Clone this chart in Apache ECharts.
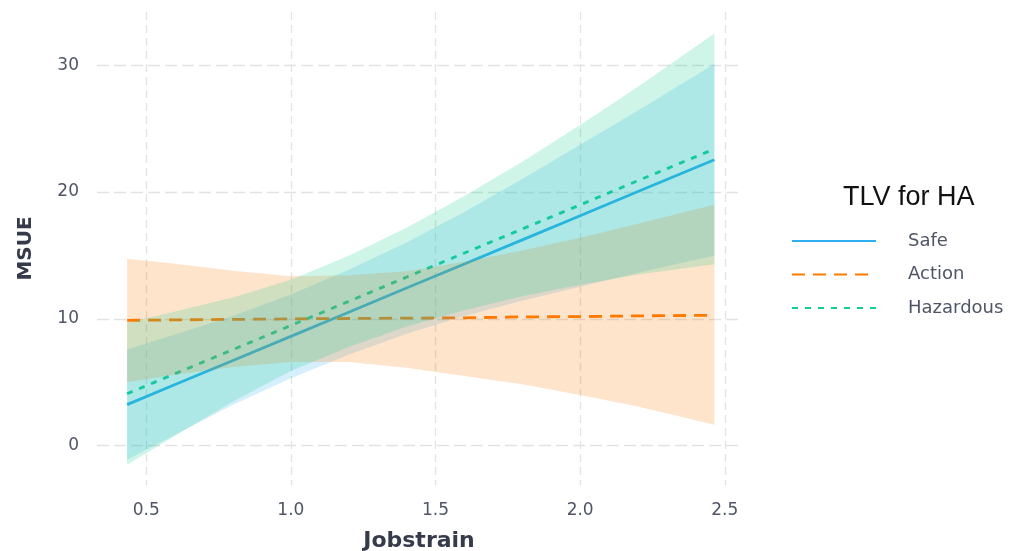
<!DOCTYPE html>
<html>
<head>
<meta charset="utf-8">
<script src="https://cdn.jsdelivr.net/npm/echarts@6/dist/echarts.min.js"></script>
<style>
  html, body { margin: 0; padding: 0; background: #ffffff; }
  #chart { width: 1015px; height: 551px; }
</style>
</head>
<body>
<div id="chart"></div>
<script>
// Predicted MSUE against job strain, by TLV for HA group, with confidence ribbons
const jobstrain = [0.434, 0.6, 0.8, 1.0, 1.2, 1.4, 1.6, 1.8, 2.0, 2.2, 2.464];

const safeFit   = [3.24, 4.82, 6.72, 8.62, 10.52, 12.43, 14.33, 16.23, 18.13, 20.04, 22.55];
const safeLow   = [-1.11, 0.87, 3.22, 5.32, 7.17, 8.83, 10.23, 11.43, 12.53, 13.64, 15.0];
const safeHigh  = [7.59, 8.77, 10.22, 11.92, 13.87, 16.03, 18.43, 21.03, 23.73, 26.44, 30.1];

const actionFit  = [9.88, 9.92, 9.96, 10.0, 10.03, 10.06, 10.08, 10.16, 10.18, 10.24, 10.28];
const actionLow  = [5.0, 5.6, 6.2, 6.6, 6.6, 6.15, 5.5, 4.85, 4.0, 3.1, 1.66];
const actionHigh = [14.74, 14.34, 13.8, 13.36, 13.45, 13.75, 14.5, 15.4, 16.4, 17.5, 19.0];

const hazFit   = [4.1, 5.68, 7.58, 9.48, 11.38, 13.29, 15.19, 17.09, 18.99, 20.9, 23.4];
const hazLow   = [-1.5, 0.78, 3.48, 5.88, 7.78, 9.39, 10.69, 11.79, 12.69, 13.5, 14.3];
const hazHigh  = [9.7, 10.58, 11.68, 13.08, 14.98, 17.19, 19.69, 22.39, 25.29, 28.3, 32.5];

const xTicks = [0.5, 1.0, 1.5, 2.0, 2.5];
const yTicks = [0, 10, 20, 30];
const groups = ['Safe', 'Action', 'Hazardous'];

const COLORS = {
  Safe: [47, 174, 242],
  Action: [255, 122, 0],
  Hazardous: [16, 207, 147]
};
const rgb = c => `rgb(${c[0]},${c[1]},${c[2]})`;
const rgba = (c, a) => `rgba(${c[0]},${c[1]},${c[2]},${a})`;

// fitted lines sit underneath the translucent ribbons
function fitLine(name, fit, dash) {
  return {
    type: 'line',
    name: name,
    z: 1,
    data: jobstrain.map((x, i) => [x, fit[i]]),
    symbol: 'none',
    smooth: false,
    silent: true,
    lineStyle: { color: rgb(COLORS[name]), width: 2.8, type: dash, cap: 'butt' },
    itemStyle: { color: rgb(COLORS[name]) }
  };
}

function ribbon(name, low, high) {
  return {
    type: 'custom',
    name: name + ' interval',
    z: 3,
    silent: true,
    data: jobstrain.map((x, i) => [x, low[i], high[i]]),
    encode: { x: 0, y: [1, 2] },
    renderItem: function (params, api) {
      if (params.dataIndex !== 0) return null;
      const upper = jobstrain.map((x, i) => api.coord([x, high[i]]));
      const lower = jobstrain.map((x, i) => api.coord([x, low[i]])).reverse();
      return {
        type: 'polygon',
        shape: { points: upper.concat(lower) },
        style: { fill: rgba(COLORS[name], 0.2), stroke: null }
      };
    }
  };
}

const tickFont = 'DejaVu Sans';
const chart = echarts.init(document.getElementById('chart'), null, { renderer: 'canvas' });

chart.setOption({
  animation: false,
  backgroundColor: '#ffffff',
  title: {
    text: 'TLV for HA',
    left: 838,
    top: 179,
    textStyle: { fontFamily: 'Liberation Sans', fontSize: 27, fontWeight: 'normal', color: '#111111' }
  },
  legend: {
    orient: 'vertical',
    left: 786,
    top: 227,
    itemWidth: 84,
    itemHeight: 14,
    itemGap: 15.5,
    data: groups,
    selectedMode: false,
    itemStyle: { color: 'rgba(0,0,0,0)', borderWidth: 0, opacity: 0 },
    textStyle: {
      fontFamily: tickFont, fontSize: 18, color: '#4f5566',
      padding: [0, 0, 0, 27]
    }
  },
  grid: { left: 97, right: 274, top: 12, bottom: 66, containLabel: false, outerBoundsMode: 'none' },
  xAxis: {
    type: 'value',
    min: 0.33,
    max: 2.556,
    name: 'Jobstrain',
    nameLocation: 'middle',
    nameGap: 45,
    nameTextStyle: { fontFamily: tickFont, fontWeight: 'bold', fontSize: 22, color: '#353b4b' },
    axisLine: { show: false },
    axisTick: { show: false, customValues: xTicks },
    axisLabel: {
      customValues: xTicks,
      margin: 17,
      fontFamily: tickFont, fontSize: 17, color: '#4f5566',
      formatter: v => v.toFixed(1)
    },
    splitLine: { show: true, lineStyle: { color: '#e3e3e3', width: 1.3, type: [8, 5] } }
  },
  yAxis: {
    type: 'value',
    min: -3.1,
    max: 34.2,
    name: 'MSUE',
    nameLocation: 'middle',
    nameGap: 61,
    nameRotate: 90,
    nameTextStyle: { fontFamily: tickFont, fontWeight: 'bold', fontSize: 20, color: '#353b4b' },
    axisLine: { show: false },
    axisTick: { show: false, customValues: yTicks },
    axisLabel: {
      customValues: yTicks,
      margin: 18,
      fontFamily: tickFont, fontSize: 17, color: '#4f5566'
    },
    splitLine: { show: true, lineStyle: { color: '#e3e3e3', width: 1.3, type: [12, 5] } }
  },
  series: [
    fitLine('Safe', safeFit, 'solid'),
    fitLine('Action', actionFit, [13, 8]),
    fitLine('Hazardous', hazFit, [6, 7]),
    ribbon('Safe', safeLow, safeHigh),
    ribbon('Action', actionLow, actionHigh),
    ribbon('Hazardous', hazLow, hazHigh)
  ]
});
</script>
</body>
</html>
